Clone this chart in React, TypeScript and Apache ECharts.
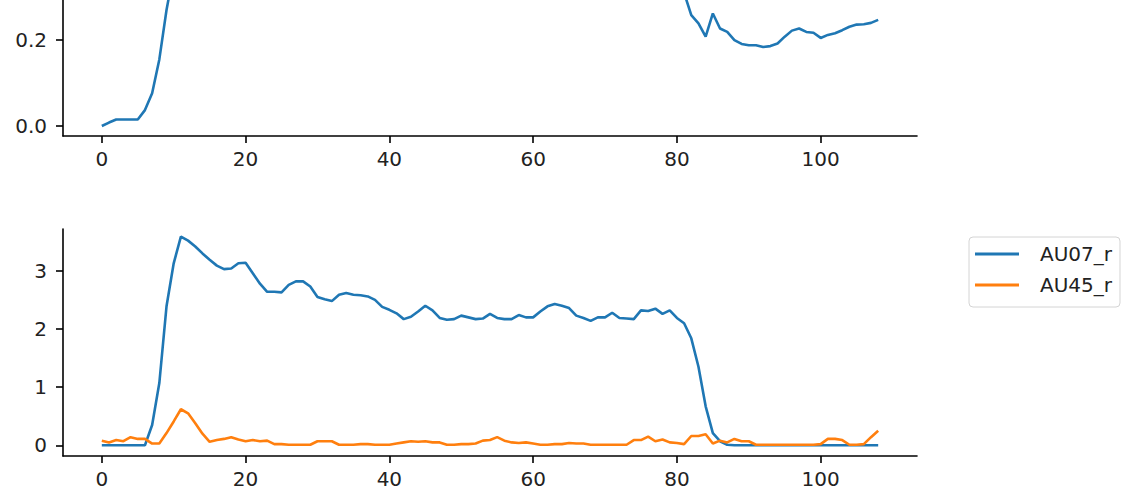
import React, { useEffect, useRef } from "react";
import * as echarts from "echarts";

// Frame-wise values
const upperValues = [
  0, 0.008, 0.015, 0.015, 0.015, 0.015, 0.037, 0.076, 0.155, 0.27,
  0.36, 0.42, 0.45, 0.46, 0.45, 0.44, 0.43, 0.42, 0.42, 0.43,
  0.43, 0.42, 0.4, 0.39, 0.39, 0.39, 0.4, 0.41, 0.41, 0.4,
  0.38, 0.38, 0.37, 0.38, 0.39, 0.38, 0.38, 0.38, 0.37, 0.36,
  0.36, 0.35, 0.35, 0.35, 0.36, 0.37, 0.36, 0.35, 0.35, 0.35,
  0.36, 0.35, 0.35, 0.35, 0.36, 0.35, 0.35, 0.35, 0.36, 0.35,
  0.35, 0.36, 0.37, 0.37, 0.37, 0.36, 0.35, 0.35, 0.34, 0.35,
  0.35, 0.36, 0.35, 0.35, 0.35, 0.36, 0.36, 0.37, 0.36, 0.36,
  0.35, 0.31, 0.258, 0.239, 0.208, 0.262, 0.227, 0.219, 0.2, 0.191,
  0.188, 0.188, 0.184, 0.186, 0.192, 0.208, 0.222, 0.227, 0.219, 0.217,
  0.205, 0.212, 0.216, 0.223, 0.231, 0.236, 0.237, 0.24, 0.247,
];

const au07Values = [
  0, 0, 0, 0, 0, 0, 0, 0.35, 1.07, 2.39,
  3.13, 3.59, 3.52, 3.42, 3.3, 3.19, 3.09, 3.03, 3.04, 3.13,
  3.14, 2.96, 2.78, 2.64, 2.64, 2.63, 2.76, 2.82, 2.82, 2.73,
  2.55, 2.51, 2.48, 2.59, 2.62, 2.59, 2.58, 2.56, 2.5, 2.38,
  2.33, 2.27, 2.17, 2.21, 2.3, 2.4, 2.32, 2.19, 2.16, 2.17,
  2.23, 2.2, 2.17, 2.18, 2.26, 2.19, 2.17, 2.17, 2.24, 2.2,
  2.2, 2.3, 2.39, 2.43, 2.4, 2.36, 2.23, 2.19, 2.14, 2.2,
  2.2, 2.28, 2.19, 2.18, 2.17, 2.32, 2.31, 2.35, 2.26, 2.32,
  2.19, 2.1, 1.84, 1.35, 0.67, 0.21, 0.07, 0.01, 0, 0,
  0, 0, 0, 0, 0, 0, 0, 0, 0, 0,
  0, 0, 0, 0, 0, 0, 0, 0, 0,
];

const au45Values = [
  0.08, 0.05, 0.09, 0.07, 0.14, 0.11, 0.11, 0.03, 0.03, 0.21,
  0.41, 0.62, 0.55, 0.38, 0.2, 0.06, 0.09, 0.11, 0.14, 0.1,
  0.07, 0.09, 0.07, 0.08, 0.02, 0.02, 0.01, 0.01, 0.01, 0.01,
  0.07, 0.07, 0.07, 0.01, 0.01, 0.01, 0.02, 0.02, 0.01, 0.01,
  0.01, 0.03, 0.05, 0.07, 0.06, 0.07, 0.05, 0.05, 0.01, 0.01,
  0.02, 0.02, 0.03, 0.08, 0.09, 0.14, 0.08, 0.05, 0.04, 0.05,
  0.03, 0.01, 0.01, 0.02, 0.02, 0.04, 0.03, 0.03, 0.01, 0.01,
  0.01, 0.01, 0.01, 0.01, 0.09, 0.09, 0.15, 0.07, 0.1, 0.05,
  0.04, 0.02, 0.16, 0.16, 0.19, 0.03, 0.08, 0.05, 0.11, 0.07,
  0.07, 0.01, 0.01, 0.01, 0.01, 0.01, 0.01, 0.01, 0.01, 0.01,
  0.02, 0.11, 0.11, 0.09, 0.01, 0.01, 0.02, 0.14, 0.25,
];

const xTicks = [0, 20, 40, 60, 80, 100];
const upperYTicks = [0, 0.2];
const lowerYTicks = [0, 1, 2, 3];
const legendNames = ["AU07_r", "AU45_r"];

const FONT = "DejaVu Sans";
const BLUE = "#1f77b4";
const ORANGE = "#ff7f0e";

const toPairs = (vals: number[]) => vals.map((v, i) => [i, v]);

export default function App() {
  const ref = useRef<HTMLDivElement>(null);

  useEffect(() => {
    if (!ref.current) return;
    const chart = echarts.init(ref.current, undefined, { renderer: "svg" });

    const axisLine = { show: true, onZero: false, lineStyle: { color: "#000", width: 1.6 } };
    const labelStyle = { fontSize: 20, fontFamily: FONT, color: "#222" };

    const makeX = (gridIndex: number) => ({
      type: "value" as const,
      gridIndex,
      min: -5.4,
      max: 113.4,
      axisLine,
      axisTick: {
        show: true,
        length: 7,
        lineStyle: { color: "#000", width: 1.6 },
        customValues: xTicks,
      },
      axisLabel: { ...labelStyle, margin: 13, customValues: xTicks },
      splitLine: { show: false },
    });

    const makeY = (
      gridIndex: number,
      min: number,
      max: number,
      ticks: number[],
      fmt: (v: number) => string
    ) => ({
      type: "value" as const,
      gridIndex,
      min,
      max,
      axisLine,
      axisTick: {
        show: true,
        length: 7,
        lineStyle: { color: "#000", width: 1.6 },
        customValues: ticks,
      },
      axisLabel: {
        ...labelStyle,
        margin: 16,
        padding: [5, 0, 0, 0],
        customValues: ticks,
        formatter: fmt,
      },
      splitLine: { show: false },
    });

    chart.setOption({
      animation: false,
      backgroundColor: "#fff",
      textStyle: { fontFamily: FONT },
      grid: [
        { left: 63, top: 0, width: 854, height: 136 },
        { left: 63, top: 229, width: 854, height: 227 },
      ],
      xAxis: [makeX(0), makeX(1)],
      yAxis: [
        makeY(0, -0.0233, 0.2933, upperYTicks, (v: number) => v.toFixed(1)),
        makeY(1, -0.184, 3.72, lowerYTicks, (v: number) => String(Math.round(v))),
      ],
      legend: {
        orient: "vertical",
        left: 969,
        top: 237,
        padding: [5, 8, 10, 6],
        itemGap: 7,
        itemWidth: 44,
        itemHeight: 3,
        icon: "rect",
        data: legendNames,
        textStyle: {
          fontSize: 20,
          fontFamily: FONT,
          color: "#222",
          lineHeight: 24,
          padding: [0, 0, 0, 16],
        },
        borderColor: "#d4d4d4",
        borderWidth: 1,
        borderRadius: 4,
        backgroundColor: "#fff",
      },
      series: [
        {
          name: "upper",
          type: "line",
          xAxisIndex: 0,
          yAxisIndex: 0,
          data: toPairs(upperValues),
          showSymbol: false,
          symbol: "none",
          clip: true,
          lineStyle: { color: BLUE, width: 2.6 },
          itemStyle: { color: BLUE },
        },
        {
          name: legendNames[0],
          type: "line",
          xAxisIndex: 1,
          yAxisIndex: 1,
          data: toPairs(au07Values),
          showSymbol: false,
          symbol: "none",
          lineStyle: { color: BLUE, width: 2.6 },
          itemStyle: { color: BLUE },
        },
        {
          name: legendNames[1],
          type: "line",
          xAxisIndex: 1,
          yAxisIndex: 1,
          data: toPairs(au45Values),
          showSymbol: false,
          symbol: "none",
          lineStyle: { color: ORANGE, width: 2.6 },
          itemStyle: { color: ORANGE },
        },
      ],
    });

    return () => chart.dispose();
  }, []);

  return (
    <div
      ref={ref}
      style={{ position: "fixed", left: 0, top: 0, width: 1136, height: 501 }}
    />
  );
}
